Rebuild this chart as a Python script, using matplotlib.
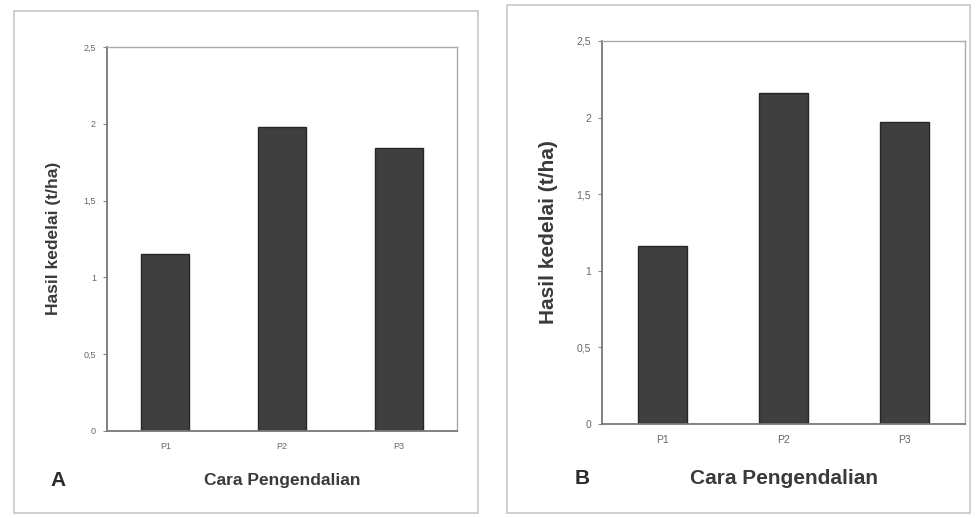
import matplotlib.pyplot as plt
from matplotlib.patches import Rectangle

plt.rcParams['font.family'] = ['Liberation Sans', 'DejaVu Sans']

# data
perlakuan = ['P1', 'P2', 'P3']
hasil_a = [1.15, 1.98, 1.84]
hasil_b = [1.16, 2.16, 1.97]
yticks = [0, 0.5, 1, 1.5, 2, 2.5]
ytick_labels = ['0', '0,5', '1', '1,5', '2', '2,5']

fig = plt.figure(figsize=(9.76, 5.18), dpi=100)

# panel borders (pixel boxes converted to figure fractions)
W, H = 976, 518
def px_box(x0, y0, x1, y1):
    return [x0 / W, 1 - y1 / H, (x1 - x0) / W, (y1 - y0) / H]

for x0, y0, x1, y1 in [(14, 11, 478, 513), (507, 5, 970, 513)]:
    b = px_box(x0, y0, x1, y1)
    fig.patches.append(Rectangle((b[0], b[1]), b[2], b[3], transform=fig.transFigure,
                                 fill=False, edgecolor='#c8c8c8', linewidth=1.2))

panels = [
    dict(box=px_box(107, 47, 457, 431), data=hasil_a, letter='A', fs_lab=12.5, fs_tick=6.5,
         letter_xy=(50, 480), ylab_x=54, ylab_y=238, xlab_y=480),
    dict(box=px_box(602, 41, 965, 424), data=hasil_b, letter='B', fs_lab=15, fs_tick=7.5,
         letter_xy=(575, 478), ylab_x=549, ylab_y=232, xlab_y=478),
]

for p in panels:
    ax = fig.add_axes(p['box'])
    x = list(range(len(perlakuan)))
    ax.bar(x, p['data'], width=0.41, color='#3f3f3f', edgecolor='#262626', linewidth=1.0)
    ax.set_xlim(-0.5, 2.5)
    ax.set_ylim(0, 2.5)
    ax.set_xticks(x)
    ax.set_xticklabels(perlakuan, fontsize=p['fs_tick'], color='#666666')
    ax.set_yticks(yticks)
    ax.set_yticklabels(ytick_labels, fontsize=p['fs_tick'], color='#666666')
    ax.tick_params(axis='x', length=0, pad=8)
    ax.tick_params(axis='y', length=3, width=0.8, color='#888888', pad=5)
    for side in ['top', 'right']:
        ax.spines[side].set_color('#aaaaaa')
        ax.spines[side].set_linewidth(1.0)
    for side in ['left', 'bottom']:
        ax.spines[side].set_color('#777777')
        ax.spines[side].set_linewidth(1.3)

    b = p['box']
    fig.text(p['ylab_x'] / W, 1 - p['ylab_y'] / H, 'Hasil kedelai (t/ha)', rotation=90,
             ha='center', va='center', fontsize=p['fs_lab'], fontweight='bold', color='#3a3a3a')
    fig.text(b[0] + b[2] * 0.5, 1 - p['xlab_y'] / H, 'Cara Pengendalian',
             ha='center', va='center', fontsize=p['fs_lab'], fontweight='bold', color='#3a3a3a')
    fig.text(p['letter_xy'][0] / W, 1 - p['letter_xy'][1] / H, p['letter'],
             ha='left', va='center', fontsize=15, fontweight='bold', color='#2a2a2a')

fig.savefig('out.png', dpi=100)
